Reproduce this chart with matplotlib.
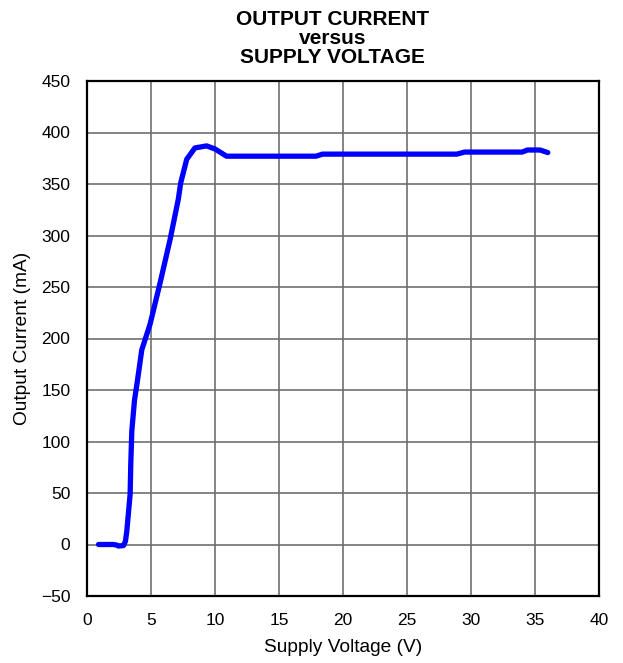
import matplotlib
matplotlib.use("Agg")
import matplotlib.pyplot as plt

plt.rcParams['font.family'] = ['Liberation Sans', 'DejaVu Sans']
plt.rcParams['axes.unicode_minus'] = True

# supply voltage (V) and output current (mA)
voltage = [0.9, 2.07, 2.3, 2.46, 2.85, 3.0, 3.11, 3.37, 3.42, 3.5, 3.71, 3.94, 4.28,
           4.93, 5.71, 6.49, 7.13, 7.32, 7.79, 8.43, 9.35, 10.0, 10.9, 17.9, 18.4,
           28.9, 29.5, 34.0, 34.4, 35.4, 36.0]
current = [0, 0, -0.5, -1.5, -1, 3, 13, 49, 78, 110, 140, 159, 189,
           214, 254, 296, 335, 351, 374, 385, 387, 384, 377, 377, 379,
           379, 381, 381, 383, 383, 380.5]

x_ticks = list(range(0, 41, 5))
y_ticks = list(range(-50, 451, 50))

fig = plt.figure(figsize=(6.23, 6.63), dpi=100)
ax = fig.add_axes([87 / 623, 1 - 596 / 663, 512 / 623, 515 / 663])

ax.plot(voltage, current, color='#0000ff', linewidth=3.8,
        solid_joinstyle='round', solid_capstyle='round')

ax.set_xlim(0, 40)
ax.set_ylim(-50, 450)
ax.set_xticks(x_ticks)
ax.set_yticks(y_ticks)
ax.grid(True, color='#707070', linewidth=1.2)
ax.set_axisbelow(True)
ax.tick_params(length=0, labelsize=12.5, pad=12)
for s in ax.spines.values():
    s.set_linewidth(1.6)

ax.set_xlabel('Supply Voltage (V)', fontsize=13.8, labelpad=8)
ax.set_ylabel('Output Current (mA)', fontsize=13.8, labelpad=7)
ax.set_title('OUTPUT CURRENT\nversus\nSUPPLY VOLTAGE', fontsize=15,
             fontweight='bold', linespacing=1.0, pad=13, x=0.479)

fig.savefig('out.png', dpi=100)
